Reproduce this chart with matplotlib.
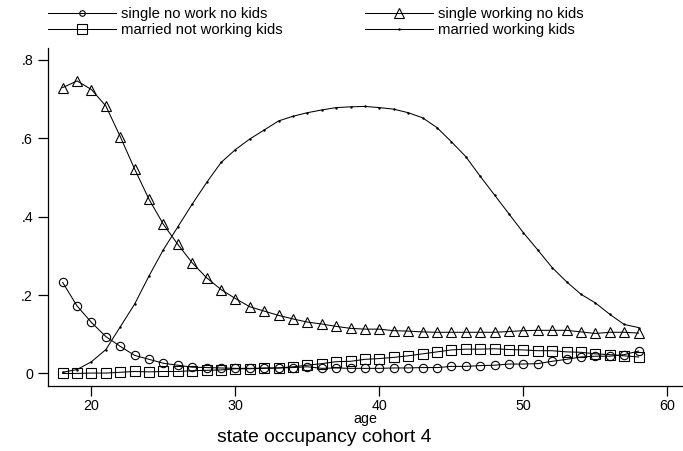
import matplotlib
matplotlib.use('Agg')
import matplotlib.pyplot as plt
import numpy as np

plt.rcParams['font.family'] = ['Liberation Sans', 'DejaVu Sans']

# ages 18..58
age = np.arange(18, 59)

single_nowork = [0.232, 0.172, 0.130, 0.094, 0.069, 0.046, 0.036, 0.026, 0.021, 0.016,
                 0.015, 0.014, 0.013, 0.013, 0.013, 0.014, 0.015, 0.017, 0.013, 0.014,
                 0.013, 0.013, 0.013, 0.014, 0.014, 0.015, 0.015, 0.018, 0.018, 0.020,
                 0.021, 0.024, 0.024, 0.025, 0.031, 0.036, 0.042, 0.044, 0.044, 0.048,
                 0.057]
single_working = [0.729, 0.746, 0.724, 0.682, 0.604, 0.521, 0.444, 0.380, 0.329, 0.282,
                  0.244, 0.214, 0.191, 0.170, 0.159, 0.148, 0.139, 0.131, 0.126, 0.120,
                  0.115, 0.113, 0.113, 0.109, 0.108, 0.106, 0.105, 0.105, 0.105, 0.105,
                  0.105, 0.107, 0.109, 0.110, 0.110, 0.110, 0.106, 0.102, 0.105, 0.105,
                  0.103]
married_notworking = [0.000, 0.000, 0.001, 0.001, 0.003, 0.005, 0.004, 0.005, 0.005, 0.007,
                      0.008, 0.009, 0.012, 0.012, 0.014, 0.014, 0.017, 0.021, 0.025, 0.030,
                      0.031, 0.036, 0.038, 0.041, 0.045, 0.050, 0.055, 0.060, 0.062, 0.062,
                      0.063, 0.061, 0.060, 0.058, 0.058, 0.055, 0.054, 0.050, 0.048, 0.045,
                      0.042]
married_working = [0.003, 0.010, 0.030, 0.061, 0.119, 0.177, 0.249, 0.316, 0.374, 0.432,
                   0.487, 0.538, 0.571, 0.598, 0.621, 0.644, 0.656, 0.665, 0.672, 0.678,
                   0.680, 0.681, 0.678, 0.674, 0.665, 0.652, 0.627, 0.591, 0.553, 0.503,
                   0.455, 0.407, 0.359, 0.315, 0.270, 0.234, 0.202, 0.180, 0.151, 0.125,
                   0.117]

labels = ['single no work no kids', 'single working no kids',
          'married not working kids', 'married working kids']
xticks = [20, 30, 40, 50, 60]
yticks = [0, 0.2, 0.4, 0.6, 0.8]
ytick_labels = ['0', '.2', '.4', '.6', '.8']

W, H = 683, 451
fig = plt.figure(figsize=(W / 100, H / 100), dpi=100)
ax = plt.axes([48.3 / W, 1 - 386 / H, (681.7 - 48.3) / W, (386 - 48) / H])

lw = 0.75
l1, = ax.plot(age, single_nowork, color='black', lw=lw, marker='o', ms=6,
              mfc='none', mec='black', mew=0.8)
l2, = ax.plot(age, single_working, color='black', lw=lw, marker='^', ms=7,
              mfc='none', mec='black', mew=0.8)
l3, = ax.plot(age, married_notworking, color='black', lw=lw, marker='s', ms=7,
              mfc='none', mec='black', mew=0.8)
l4, = ax.plot(age, married_working, color='black', lw=lw, marker='.', ms=1.5,
              mfc='black', mec='black')

ax.set_xlim(17, 61)
ax.set_ylim(-0.032, 0.83)
ax.set_xticks(xticks)
ax.set_yticks(yticks)
ax.set_yticklabels(ytick_labels)
for s in ['top', 'right']:
    ax.spines[s].set_visible(False)
for s in ['left', 'bottom']:
    ax.spines[s].set_linewidth(0.9)
ax.tick_params(axis='both', direction='out', length=7, width=0.9, labelsize=10.3)
ax.tick_params(axis='y', pad=4)
ax.tick_params(axis='x', pad=2)

ax.set_xlabel('age', fontsize=10.3, labelpad=0)
fig.text(324 / W, 1 - 437 / H, 'state occupancy cohort 4', fontsize=13.9,
         ha='center', va='center')

# legend laid out as two columns above the plot
leg_kw = dict(frameon=False, fontsize=10.7, handlelength=4.6, handletextpad=0.3,
              labelspacing=0.12, borderpad=0, borderaxespad=0, loc='upper left')
leg1 = fig.legend([l1, l3], [labels[0], labels[2]],
                  bbox_to_anchor=(48 / W, 1 - 7 / H), **leg_kw)
leg2 = fig.legend([l2, l4], [labels[1], labels[3]],
                  bbox_to_anchor=(365 / W, 1 - 7 / H), **leg_kw)
for leg in (leg1, leg2):
    for h in leg.legend_handles:
        h.set_markevery([1])
leg1.legend_handles[0].set_markersize(4)

fig.savefig('out.png', dpi=100)
plt.close()
